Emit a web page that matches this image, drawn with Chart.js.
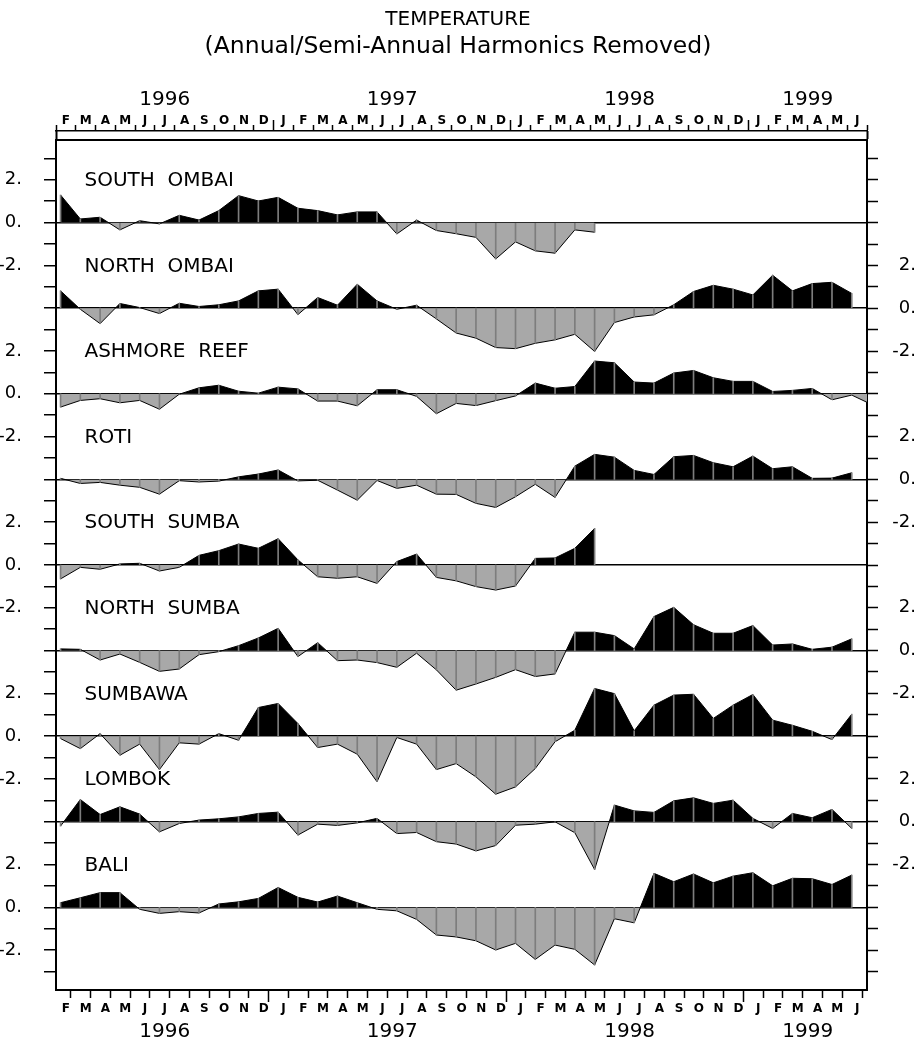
<!DOCTYPE html>
<html>
<head>
<meta charset="utf-8">
<script src="https://cdn.jsdelivr.net/npm/chart.js@4.4.1/dist/chart.umd.min.js"></script>
<style>
  html, body { margin: 0; padding: 0; background: #fff; }
  canvas { display: block; }
</style>
</head>
<body>
<canvas id="chart" width="916" height="1041"></canvas>
<script>
// monthly means, Feb 1996 .. Jun 1999
const monthLetters = ['F','M','A','M','J','J','A','S','O','N','D',
  'J','F','M','A','M','J','J','A','S','O','N','D',
  'J','F','M','A','M','J','J','A','S','O','N','D',
  'J','F','M','A','M','J'];
const years = ['1996', '1997', '1998', '1999'];
const stations = ['SOUTH  OMBAI', 'NORTH  OMBAI', 'ASHMORE  REEF', 'ROTI',
  'SOUTH  SUMBA', 'NORTH  SUMBA', 'SUMBAWA', 'LOMBOK', 'BALI'];

const southOmbai = [1.29, 0.17, 0.25, -0.34, 0.09, -0.06, 0.34, 0.12, 0.56, 1.26, 1.01, 1.18,
  0.67, 0.56, 0.36, 0.50, 0.50, -0.53, 0.12, -0.37, -0.52, -0.69, -1.70, -0.90, -1.32, -1.43,
  -0.34, -0.45];
const northOmbai = [0.81, -0.05, -0.72, 0.22, 0.03, -0.25, 0.23, 0.08, 0.16, 0.34, 0.81, 0.89,
  -0.30, 0.50, 0.14, 1.12, 0.34, -0.05, 0.14, -0.50, -1.16, -1.40, -1.84, -1.89, -1.64, -1.48,
  -1.22, -2.02, -0.67, -0.41, -0.31, 0.16, 0.78, 1.07, 0.89, 0.62, 1.54, 0.81, 1.15, 1.21, 0.69];
const ashmoreReef = [-0.62, -0.31, -0.23, -0.42, -0.31, -0.72, -0.02, 0.28, 0.40, 0.12, 0.03, 0.31,
  0.23, -0.34, -0.34, -0.56, 0.19, 0.19, -0.12, -0.93, -0.45, -0.55, -0.32, -0.10, 0.50, 0.26,
  0.34, 1.53, 1.45, 0.55, 0.50, 0.97, 1.09, 0.75, 0.58, 0.58, 0.11, 0.16, 0.25, -0.28, -0.06, -0.50];
const roti = [0.05, -0.19, -0.14, -0.27, -0.37, -0.69, -0.06, -0.12, -0.08, 0.12, 0.25, 0.44,
  -0.07, -0.04, -0.50, -0.97, -0.05, -0.42, -0.27, -0.69, -0.70, -1.12, -1.31, -0.81, -0.23, -0.84,
  0.62, 1.17, 1.04, 0.42, 0.23, 1.06, 1.12, 0.78, 0.59, 1.09, 0.50, 0.59, 0.05, 0.06, 0.31];
const southSumba = [-0.65, -0.11, -0.20, 0.05, 0.08, -0.28, -0.11, 0.45, 0.67, 0.98, 0.78, 1.23,
  0.24, -0.55, -0.62, -0.55, -0.86, 0.16, 0.51, -0.58, -0.74, -1.01, -1.17, -0.98, 0.31, 0.33,
  0.78, 1.71];
const northSumba = [0.08, 0.06, -0.44, -0.16, -0.55, -0.97, -0.86, -0.19, -0.05, 0.23, 0.59, 1.04,
  -0.28, 0.37, -0.47, -0.44, -0.56, -0.78, -0.12, -0.90, -1.85, -1.56, -1.25, -0.89, -1.21, -1.09,
  0.86, 0.86, 0.70, 0.08, 1.59, 2.02, 1.21, 0.81, 0.81, 1.17, 0.26, 0.31, 0.06, 0.16, 0.55];
const sumbawa = [-0.11, -0.58, 0.12, -0.89, -0.37, -1.56, -0.31, -0.37, 0.12, -0.19, 1.34, 1.53,
  0.59, -0.53, -0.37, -0.84, -2.13, -0.06, -0.37, -1.56, -1.28, -1.90, -2.71, -2.37, -1.51, -0.26,
  0.28, 2.23, 1.99, 0.25, 1.45, 1.92, 1.96, 0.83, 1.45, 1.95, 0.75, 0.51, 0.23, -0.16, 1.03];
const lombok = [-0.20, 1.04, 0.34, 0.70, 0.36, -0.47, -0.08, 0.08, 0.14, 0.23, 0.39, 0.45,
  -0.62, -0.11, -0.17, -0.05, 0.16, -0.55, -0.50, -0.93, -1.04, -1.36, -1.11, -0.16, -0.11, 0.00,
  -0.51, -2.23, 0.78, 0.51, 0.44, 0.98, 1.12, 0.86, 1.01, 0.16, -0.31, 0.39, 0.19, 0.58, -0.31];
const bali = [0.22, 0.45, 0.69, 0.69, -0.09, -0.28, -0.20, -0.26, 0.16, 0.26, 0.42, 0.93,
  0.47, 0.25, 0.53, 0.22, -0.09, -0.16, -0.56, -1.29, -1.38, -1.56, -1.99, -1.68, -2.43, -1.76,
  -1.96, -2.69, -0.53, -0.72, 1.59, 1.20, 1.56, 1.15, 1.46, 1.62, 1.01, 1.36, 1.34, 1.07, 1.51];

const series = [southOmbai, northOmbai, ashmoreReef, roti, southSumba, northSumba, sumbawa, lombok, bali];

const SPAN = 4;        // units between panel baselines
const OFF = 0.23;      // samples sit about a week into each month
const NMONTHS = monthLetters.length;
const FONT = '"DejaVu Sans", sans-serif';
const CLEAR = 'rgba(0,0,0,0)';

// year label positions: middle of each year's months on the axis
const yearMid = years.map(y => {
  const idx = [];
  for (let i = 0; i < NMONTHS; i++) if (1996 + Math.floor((i + 1) / 12) === +y) idx.push(i);
  return (idx[0] + idx[idx.length - 1] + 1) / 2;
});
const tv = c => (c && c.tick) ? c.tick.value : NaN;
const isJan = v => v > 0 && v < NMONTHS && (v + 1) % 12 === 0;

const datasets = [];
series.forEach((vals, k) => {
  const base = -SPAN * k;
  datasets.push({
    type: 'line',
    data: vals.map((v, i) => ({x: i + OFF, y: base + v})),
    borderColor: '#000',
    borderWidth: 1,
    pointRadius: 0,
    tension: 0,
    fill: {target: {value: base}, above: '#000', below: '#a8a8a8'},
    order: 2
  });
  datasets.push({
    type: 'bar',
    data: vals.map((v, i) => ({x: i + OFF, y: [base, base + v]})),
    backgroundColor: '#7d7d7d',
    borderWidth: 0,
    barThickness: 1,
    grouped: false,
    order: 1
  });
});

function leftLabel(v) {
  const r = ((v % 8) + 8) % 8;
  return r === 0 ? '0.' : r === 2 ? '2.' : r === 6 ? '-2.' : '';
}
function rightLabel(v) {
  if (v > -2 || v < -30) return '';
  return leftLabel(v + 4);
}
function intTicks(s) {
  s.ticks = [];
  for (let v = 3; v >= -35; v--) s.ticks.push({value: v});
}
function monthTicks(s) {
  s.ticks = [];
  for (let i = 0; i <= NMONTHS; i++) {
    s.ticks.push({value: i});
    if (i < NMONTHS) s.ticks.push({value: i + 0.5});
  }
}
const monthLabel = v => Number.isInteger(v) ? '' : (monthLetters[Math.floor(v)] || '');
const markColor = c => Number.isInteger(tv(c)) ? '#000' : CLEAR;

const stationLabels = {
  id: 'stationLabels',
  afterDatasetsDraw(chart) {
    const {ctx, scales: {x, y}} = chart;
    ctx.save();
    ctx.font = '20px ' + FONT;
    ctx.fillStyle = '#000';
    ctx.textAlign = 'left';
    ctx.textBaseline = 'middle';
    stations.forEach((name, k) => {
      ctx.fillText(name, x.getPixelForValue(1.44), y.getPixelForValue(-SPAN * k + 2) + 1);
    });
    ctx.restore();
  }
};

Chart.defaults.font.family = FONT;
Chart.defaults.color = '#000';

new Chart(document.getElementById('chart'), {
  type: 'line',
  data: {datasets},
  plugins: [stationLabels],
  options: {
    responsive: false,
    animation: false,
    devicePixelRatio: 1,
    layout: {padding: 0},
    plugins: {
      legend: {display: false},
      tooltip: {enabled: false},
      title: {
        display: true, text: 'TEMPERATURE', color: '#000',
        font: {size: 20, weight: 'normal', lineHeight: 1.2},
        padding: {top: 8, bottom: 0}
      },
      subtitle: {
        display: true, text: '(Annual/Semi-Annual Harmonics Removed)', color: '#000',
        font: {size: 23.5, weight: 'normal', lineHeight: 1.2},
        padding: {top: 0.9, bottom: 0}
      }
    },
    scales: {
      x: {
        type: 'linear', position: 'bottom', min: 0, max: NMONTHS, offset: false, weight: 0,
        afterBuildTicks: monthTicks,
        afterFit: s => { s.height = 30; },
        ticks: {
          autoSkip: false, maxRotation: 0, minRotation: 0, padding: 0,
          font: {size: 12, weight: 'bold', lineHeight: 1.2},
          callback: monthLabel
        },
        grid: {
          drawOnChartArea: false, tickLength: 12, tickWidth: 1.5,
          tickColor: markColor,
          tickBorderDash: c => isJan(tv(c)) ? [] : [7, 60]
        },
        border: {color: '#000', width: 2}
      },
      xb: {
        type: 'linear', position: 'bottom', min: 0, max: NMONTHS, offset: false, weight: 1,
        afterBuildTicks: s => { s.ticks = yearMid.map(v => ({value: v})); },
        afterFit: s => { s.height = 21; },
        ticks: {autoSkip: false, maxRotation: 0, padding: 0, font: {size: 20, lineHeight: 1.2},
          callback: (v, i) => years[i]},
        grid: {display: false, drawTicks: false},
        border: {display: false}
      },
      xs: {
        type: 'linear', position: 'top', min: 0, max: NMONTHS, offset: false, weight: 0,
        afterBuildTicks: s => { s.ticks = [{value: 0}, {value: NMONTHS}]; },
        afterFit: s => { s.height = 9; },
        ticks: {display: false},
        grid: {drawOnChartArea: false, tickLength: 9, tickWidth: 2, tickColor: '#000'},
        border: {color: '#000', width: 2}
      },
      xt: {
        type: 'linear', position: 'top', min: 0, max: NMONTHS, offset: false, weight: 1,
        afterBuildTicks: monthTicks,
        afterFit: s => { s.height = 20; },
        ticks: {
          autoSkip: false, maxRotation: 0, minRotation: 0, padding: -8.2,
          font: {size: 12, weight: 'bold', lineHeight: 1.2},
          callback: monthLabel
        },
        grid: {
          drawOnChartArea: false, tickLength: 11, tickWidth: 1.5,
          tickColor: markColor,
          tickBorderDash: c => isJan(tv(c)) ? [] : [0, 5, 6, 60]
        },
        border: {color: '#000', width: 1.5}
      },
      xy: {
        type: 'linear', position: 'top', min: 0, max: NMONTHS, offset: false, weight: 2,
        afterBuildTicks: s => { s.ticks = yearMid.map(v => ({value: v})); },
        afterFit: s => { s.height = 49.9; },
        ticks: {autoSkip: false, maxRotation: 0, padding: 1, font: {size: 20, lineHeight: 1},
          callback: (v, i) => years[i]},
        grid: {display: false, drawTicks: false},
        border: {display: false}
      },
      y: {
        type: 'linear', position: 'left', min: -35.86, max: 3.86, z: 1,
        afterBuildTicks: intTicks,
        afterFit: s => { s.width = 56; },
        ticks: {autoSkip: false, padding: 22, font: {size: 18}, callback: v => leftLabel(v)},
        grid: {
          color: c => tv(c) % SPAN === 0 ? '#000' : CLEAR,
          lineWidth: 1.5, tickColor: '#000', tickLength: 12, tickWidth: 1.5
        },
        border: {color: '#000', width: 2}
      },
      y2: {
        type: 'linear', position: 'right', min: -35.86, max: 3.86,
        afterBuildTicks: intTicks,
        afterFit: s => { s.width = 49; },
        ticks: {autoSkip: false, padding: 6, crossAlign: 'far', font: {size: 18},
          callback: v => rightLabel(v)},
        grid: {drawOnChartArea: false, tickColor: '#000', tickLength: 11, tickWidth: 1.5},
        border: {color: '#000', width: 2}
      }
    }
  }
});
</script>
</body>
</html>
